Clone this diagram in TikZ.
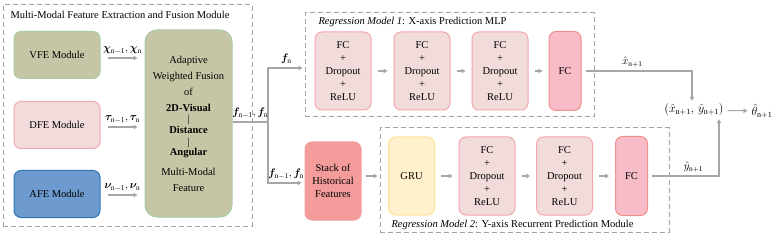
\documentclass[tikz,border=0pt]{standalone}
\usepackage{amsmath,amssymb,bm}
\usepackage{fontspec}
\setmainfont{Liberation Serif}
\usetikzlibrary{arrows.meta}
\definecolor{gline}{HTML}{A6A6A6}
\definecolor{olivefill}{HTML}{C6C6A6}
\definecolor{olivedraw}{HTML}{A8CBA4}
\definecolor{pinkfill}{HTML}{F2DCDB}
\definecolor{pinkdraw}{HTML}{F4A6AE}
\definecolor{bluefill}{HTML}{6D9BD0}
\definecolor{bluedraw}{HTML}{2E74B5}
\definecolor{fcfill}{HTML}{F7BCC7}
\definecolor{fcdraw}{HTML}{F0908A}
\definecolor{stackfill}{HTML}{F49C9C}
\definecolor{grufill}{HTML}{FFF1CC}
\definecolor{grudraw}{HTML}{FFE29A}

\begin{document}
\begin{tikzpicture}[x=1pt,y=-1pt,
  font=\fontsize{10.5}{13}\selectfont,
  arr/.style={draw=gline,line width=1.1pt,-{Triangle[length=4pt,width=4.5pt]}},
  conn/.style={draw=gline,line width=1.1pt},
  dashbox/.style={draw=gline,line width=1pt,dash pattern=on 5pt off 3pt},
  blk/.style={rounded corners=7pt,line width=1pt,align=center,inner sep=1pt},
  modbox/.style={blk,minimum width=86pt,minimum height=47pt},
  mlp/.style={blk,fill=pinkfill,draw=pinkdraw,minimum width=56pt,minimum height=78pt},
  fc/.style={blk,fill=fcfill,draw=fcdraw,minimum width=32pt,minimum height=79pt},
  outlbl/.style={font=\fontsize{12}{14}\selectfont,inner sep=2pt}]
\useasboundingbox (0,0) rectangle (781,240);

\node[dashbox,minimum width=249pt,minimum height=221pt] (fem) at (127.5,115.5) {};
\node[anchor=west] (femtitle) at (7,15) {Multi-Modal Feature Extraction and Fusion Module};
\node[modbox,fill=olivefill,draw=olivedraw] (vfe) at (57,55) {VFE Module};
\node[modbox,fill=pinkfill,draw=pinkdraw] (dfe) at (57,125) {DFE Module};
\node[modbox,fill=bluefill,draw=bluedraw] (afe) at (57,194) {AFE Module};
\node[blk,rounded corners=12pt,fill=olivefill,draw=olivedraw,minimum width=87pt,minimum height=187pt,
  font=\fontsize{10.5}{16}\selectfont] (fusion) at (188.5,123.5)
  {Adaptive\\ Weighted Fusion\\ of\\ \textbf{2D-Visual}\\[-5pt] |\\[-5pt] \textbf{Distance}\\[-4pt] |\\[-6pt] \textbf{Angular}\\[4pt] Multi-Modal\\ Feature};

\draw[arr,shorten <=7pt,shorten >=7pt] ([yshift=-3pt]vfe.east) -- ([yshift=-3pt]vfe.east -| fusion.west)
  node[midway,above] {$\bm{\chi}_{\mathrm{n-1}},\bm{\chi}_{\mathrm{n}}$};
\draw[arr,shorten <=7pt,shorten >=7pt] ([yshift=-2pt]dfe.east) -- ([yshift=-2pt]dfe.east -| fusion.west)
  node[midway,above] {$\bm{\tau}_{\mathrm{n-1}},\bm{\tau}_{\mathrm{n}}$};
\draw[arr,shorten <=7pt,shorten >=7pt] ([yshift=-1pt]afe.east) -- ([yshift=-1pt]afe.east -| fusion.west)
  node[midway,above] {$\bm{\nu}_{\mathrm{n-1}},\bm{\nu}_{\mathrm{n}}$};

\coordinate (split) at (268,122);
\draw[conn] (fusion.east |- split) -- (split) node[midway,above] {$\bm{f}_{\mathrm{n-1}},\bm{f}_{\mathrm{n}}$};

\node[dashbox,minimum width=289pt,minimum height=104pt] (reg1) at (449.5,65) {};
\node[anchor=west] (reg1title) at (315,22) {\textit{Regression Model 1}: X-axis Prediction MLP};
\node[mlp] (mlpa) at (343,71) {FC\\+\\Dropout\\+\\ReLU};
\node[mlp] (mlpb) at (422,71) {FC\\+\\Dropout\\+\\ReLU};
\node[mlp] (mlpc) at (500,71) {FC\\+\\Dropout\\+\\ReLU};
\node[fc] (fcx) at (565,71) {FC};
\draw[arr,shorten <=6pt,shorten >=6pt] (mlpa) -- (mlpb);
\draw[arr,shorten <=6pt,shorten >=6pt] (mlpb) -- (mlpc);
\draw[arr,shorten <=6pt,shorten >=6pt] (mlpc) -- (fcx);

\node[blk,fill=stackfill,draw=stackfill,minimum width=56pt,minimum height=78pt] (stack) at (333,181) {Stack of\\Historical\\Features};
\node[dashbox,minimum width=289pt,minimum height=104pt] (reg2) at (524.5,180) {};
\node[anchor=west] (reg2title) at (388,225) {\textit{Regression Model 2}: Y-axis Recurrent Prediction Module};
\node[blk,fill=grufill,draw=grudraw,minimum width=46pt,minimum height=78pt] (gru) at (411.5,176) {GRU};
\node[mlp] (mlpd) at (487,176) {FC\\+\\Dropout\\+\\ReLU};
\node[mlp] (mlpe) at (564.5,176) {FC\\+\\Dropout\\+\\ReLU};
\node[fc] (fcy) at (631.5,176) {FC};
\draw[arr,shorten <=4pt,shorten >=2pt] (stack.east |- gru) -- (gru -| reg2.west);
\draw[arr,shorten <=6pt,shorten >=6pt] (gru) -- (mlpd);
\draw[arr,shorten <=6pt,shorten >=6pt] (mlpd) -- (mlpe);
\draw[arr,shorten <=6pt,shorten >=6pt] (mlpe) -- (fcy);

\draw[arr,shorten >=2pt] (split) |- ([yshift=-3pt]reg1.west) node[pos=0.75,above] {$\bm{f}_{\mathrm{n}}$};
\draw[arr,shorten >=3pt] (split) |- ([yshift=-2pt]stack.west) node[pos=0.75,above] {$\bm{f}_{\mathrm{n-1}},\bm{f}_{\mathrm{n}}$};

\node[outlbl] (result) at (694,110) {$(\hat{x}_{\mathrm{n+1}},\,\hat{y}_{\mathrm{n+1}})$};
\node[outlbl] (theta) at (762,111) {$\hat{\theta}_{\mathrm{n+1}}$};
\draw[arr,shorten <=4pt,shorten >=1pt] (fcx.east) -| ([xshift=-2pt]result.north) node[pos=0.23,above] {$\hat{x}_{\mathrm{n+1}}$};
\draw[arr,shorten <=4pt,shorten >=1pt] (fcy.east) -| ([xshift=25pt]result.south) node[pos=0.32,above] {$\hat{y}_{\mathrm{n+1}}$};
\draw[arr,shorten <=2pt,shorten >=2pt] (result) -- (theta);
\end{tikzpicture}
\end{document}
